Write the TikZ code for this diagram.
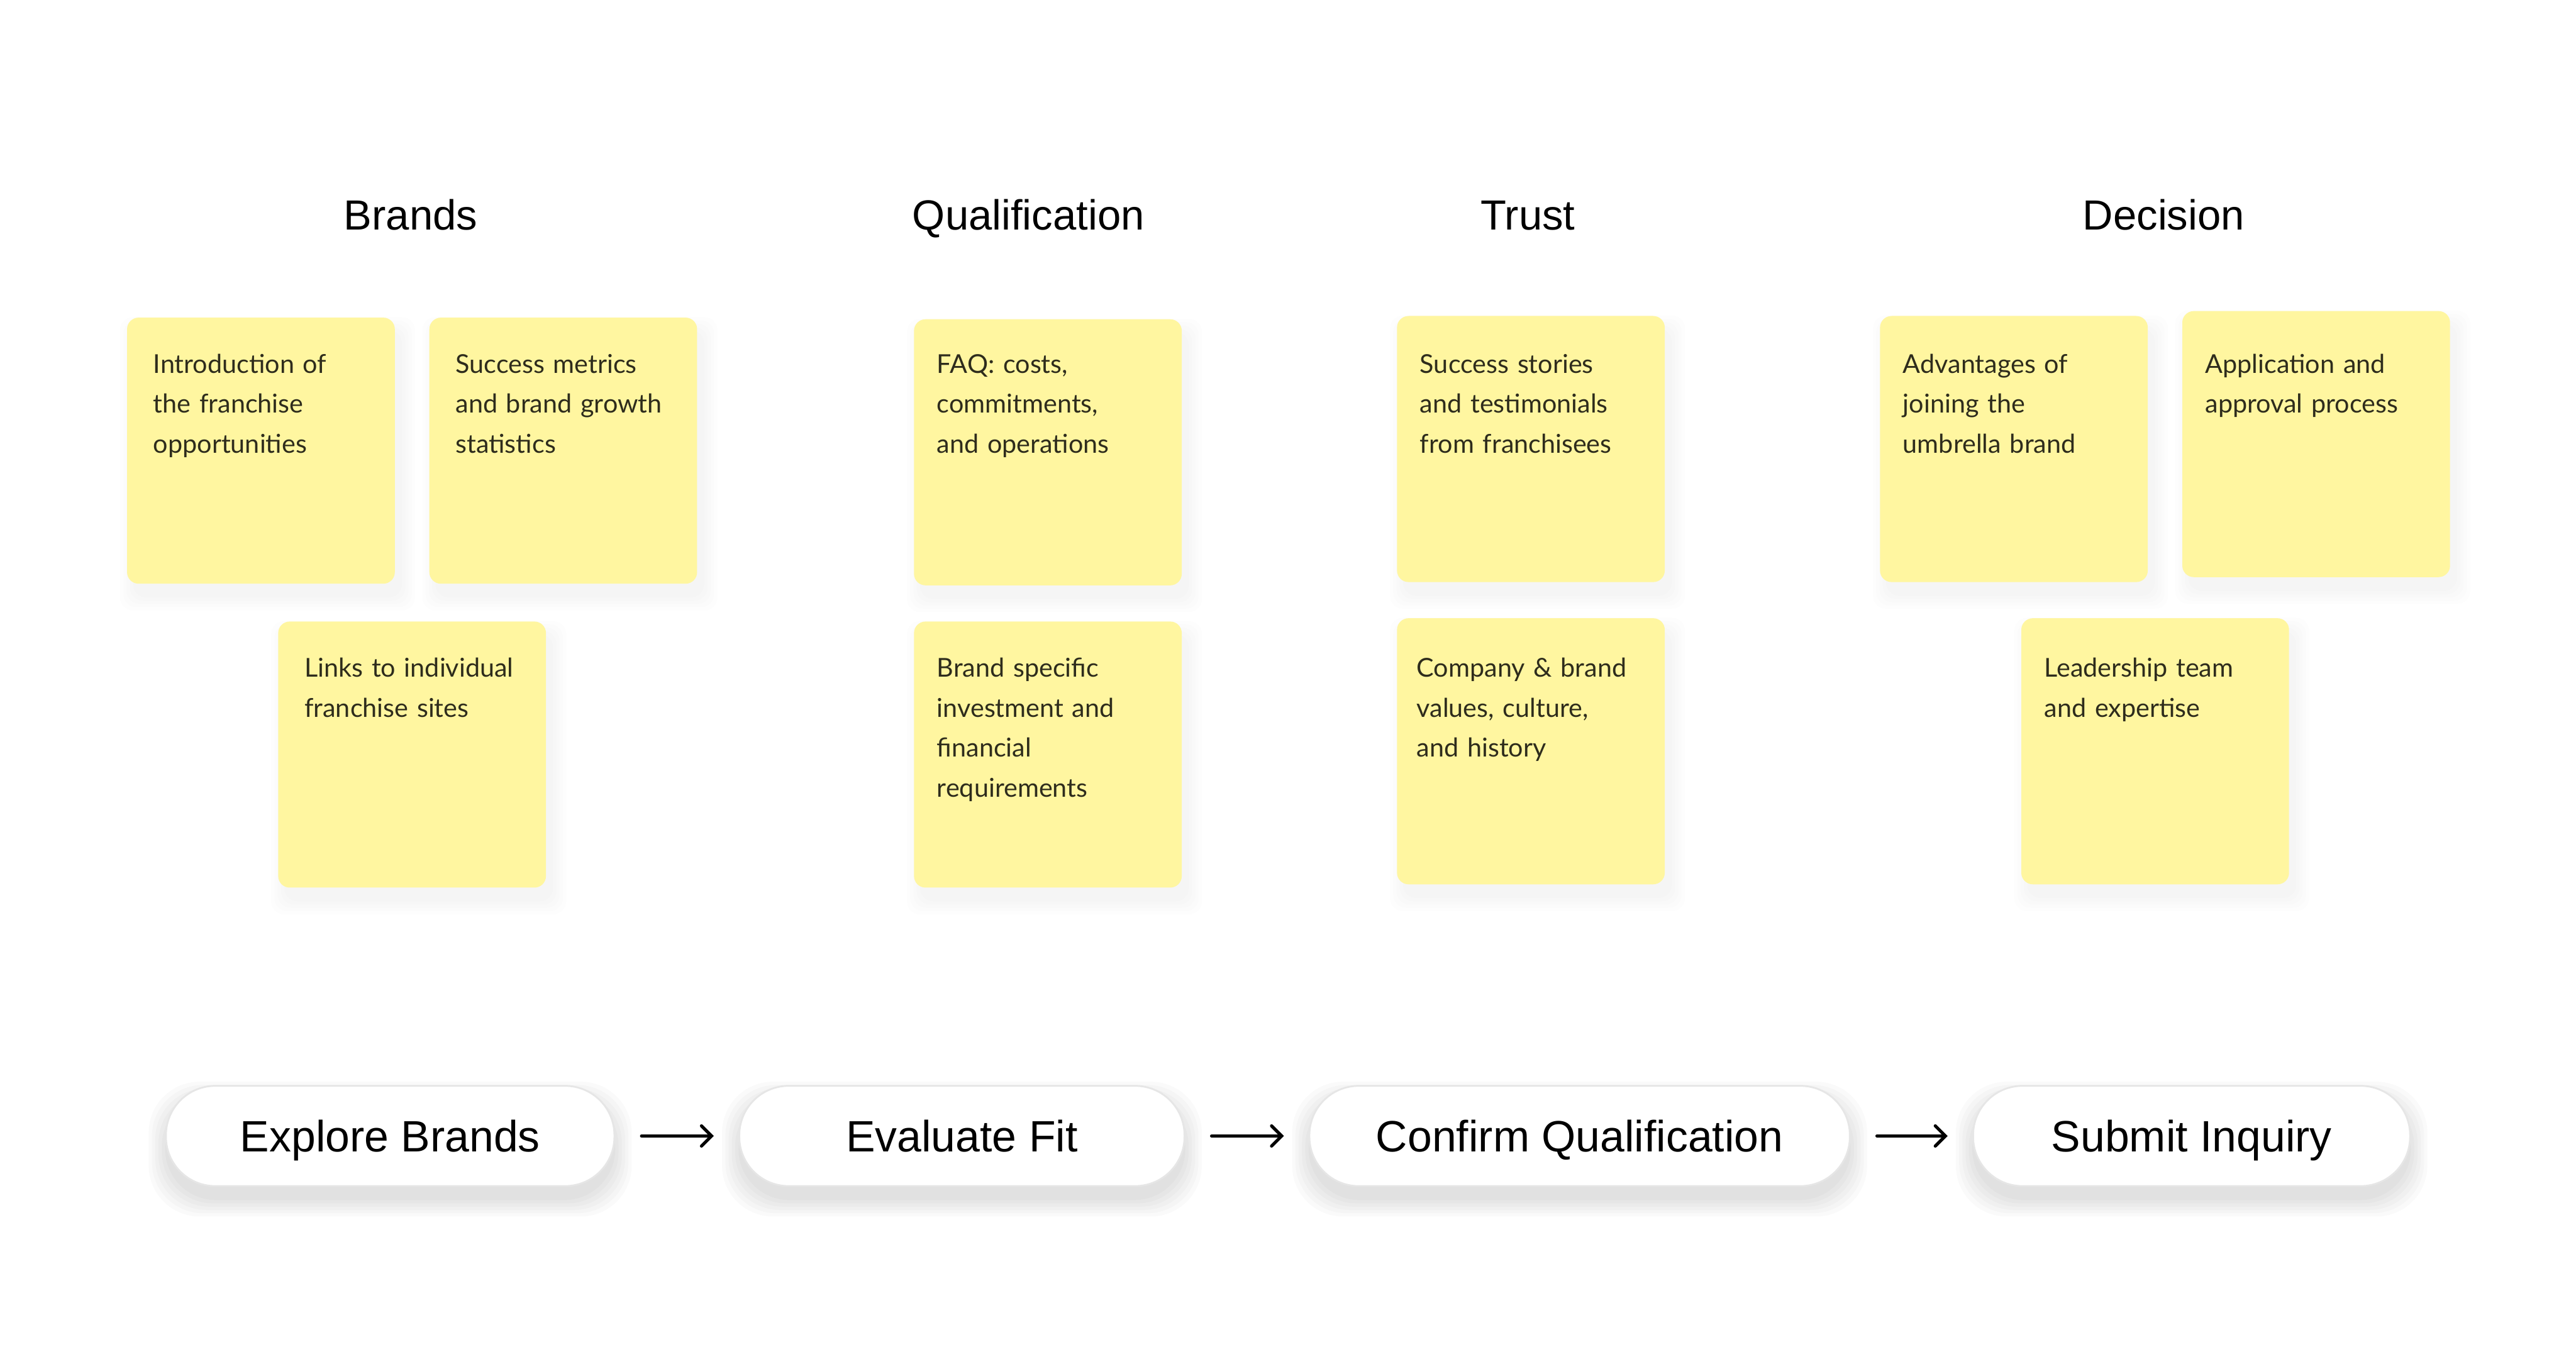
\documentclass[tikz,border=0pt]{standalone}
\usepackage{fontspec}
\newfontfamily\notefont{Lato}
\newfontfamily\headfont{Liberation Sans}
\usetikzlibrary{arrows.meta,positioning,calc,backgrounds}
\definecolor{noteyellow}{RGB}{255,246,160}
\definecolor{notetextcol}{RGB}{46,44,28}
\definecolor{pillborder}{RGB}{230,230,230}

\begin{document}
\begin{tikzpicture}[x=0.02cm,y=-0.02cm,
  note/.style={rectangle,rounded corners=0.14cm,fill=noteyellow,minimum width=3.26cm,minimum height=3.24cm,
    anchor=north west,inner sep=0pt},
  notetext/.style={anchor=base west,inner sep=0pt,text width=2.9cm,align=left,text=notetextcol,
    font=\notefont\fontsize{9}{13.9}\selectfont},
  heading/.style={anchor=base,inner sep=0pt,font=\headfont\fontsize{14.6}{16}\selectfont},
  pill/.style={rectangle,rounded corners=0.6cm,fill=white,draw=pillborder,line width=0.6pt,
    minimum height=1.22cm,inner sep=0pt,text height=11pt,text depth=0pt,
    font=\headfont\fontsize{15.2}{17}\selectfont},
  softshadow/.style={fill=black,opacity=#1},
  flow/.style={-{Straight Barb[length=3.5pt,width=7pt,line cap=round]},line width=1.1pt,
    line cap=round,shorten <=0.32cm,shorten >=0.3cm}]
  \begin{pgfonlayer}{background}
    \fill[white] (0,0) rectangle (1568,833);
  \end{pgfonlayer}
  \useasboundingbox (0,0) rectangle (1568,833);

  % column headings
  \node[heading] (hbrands) at (250,140) {Brands};
  \node[heading] (hqual) at (626,140) {Qualification};
  \node[heading] (htrust) at (930,140) {Trust};
  \node[heading] (hdecision) at (1317,140) {Decision};

  % sticky notes
  \foreach \n/\x/\y/\tx/\ty/\txt in {
      intro/77/193/93/227/{Introduction of\\the franchise\\opportunities},
      metrics/261/193/277/227/{Success metrics\\and brand growth\\statistics},
      links/169/378/185/412/{Links to individual\\franchise sites},
      faq/556/194/570/227/{FAQ: costs,\\commitments,\\and operations},
      invest/556/378/570/412/{Brand specific\\investment and\\financial\\requirements},
      stories/850/192/864/227/{Success stories\\and testimonials\\from franchisees},
      values/850/376/862/412/{Company \& brand\\values, culture,\\and history},
      advant/1144/192/1158/227/{Advantages of\\joining the\\umbrella brand},
      apply/1328/189/1342/227/{Application and\\approval process},
      leaders/1230/376/1244/412/{Leadership team\\and expertise}}{
    \node[note] (\n) at (\x,\y) {};
    \node[notetext] (\n-txt) at (\tx,\ty) {\txt};
    \begin{pgfonlayer}{background}
      \foreach \k in {0,2,...,8}
        \fill[softshadow=0.008,rounded corners=0.16cm]
          ($(\n.north west)+(4-\k,8-\k)$) rectangle ($(\n.south east)+(4+\k,8+\k)$);
    \end{pgfonlayer}
  }

  % flow of steps
  \node[pill,minimum width=5.46cm] (explore) at (237.5,691.5) {Explore Brands};
  \node[pill,minimum width=5.42cm] (evaluate) at (585.5,691.5) {Evaluate Fit};
  \node[pill,minimum width=6.58cm] (confirm) at (961.5,691.5) {Confirm Qualification};
  \node[pill,minimum width=5.32cm] (submit) at (1334,691.5) {Submit Inquiry};
  \draw[flow] (explore) -- (evaluate);
  \draw[flow] (evaluate) -- (confirm);
  \draw[flow] (confirm) -- (submit);

  \begin{pgfonlayer}{background}
    \foreach \p in {explore,evaluate,confirm,submit}
      \foreach \k in {0,2,...,10}
        \fill[softshadow=0.018,rounded corners=0.62cm]
          ($(\p.north west)+(-\k,8-\k)$) rectangle ($(\p.south east)+(\k,8+\k)$);
  \end{pgfonlayer}
\end{tikzpicture}
\end{document}
